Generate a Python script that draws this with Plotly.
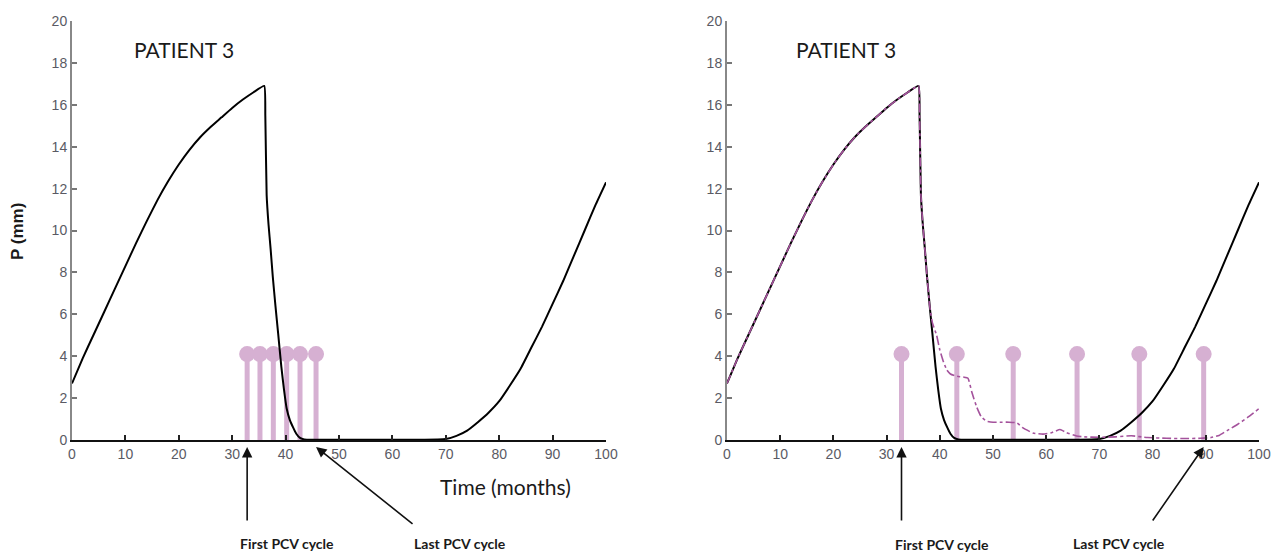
import plotly.graph_objects as go

# ---- data ----
time_model = [0, 2, 4, 6, 8, 10, 12, 14, 16, 18, 20, 22, 24, 26, 28, 30, 32, 34, 36,
              36.2, 36.45, 36.8, 37.2, 37.6, 38.1, 38.6, 39.2, 39.7, 40.2, 40.8, 41.4, 42.0,
              42.7, 43.5, 45, 50, 55, 60, 65, 70, 72, 74, 76, 78, 80, 82, 84, 86, 88, 90,
              92, 94, 96, 98, 100]
p_model = [2.7, 3.9, 5.0, 6.1, 7.2, 8.3, 9.4, 10.45, 11.45, 12.35, 13.15, 13.85, 14.45,
           14.95, 15.4, 15.85, 16.25, 16.6, 16.9,
           15.5, 11.7, 10.3, 9.1, 7.8, 6.4, 5.1, 3.5, 2.4, 1.5, 0.95, 0.6, 0.3,
           0.1, 0.03, 0.01, 0.01, 0.01, 0.01, 0.01, 0.05, 0.2, 0.45, 0.85, 1.3, 1.85, 2.6,
           3.4, 4.4, 5.4, 6.5, 7.6, 8.8, 10.0, 11.2, 12.3]

time_alt = [0, 2, 4, 6, 8, 10, 12, 14, 16, 18, 20, 22, 24, 26, 28, 30, 32, 34, 36,
            36.2, 36.45, 36.8, 37.2, 37.6, 38.1, 38.6, 39.4, 40.0, 40.6, 41.3, 42.0, 43.0,
            44.5, 45.3, 46.0, 46.9, 47.8, 48.8, 50, 51.3, 53, 54.5, 55.5, 57.5, 59.4, 61,
            62.6, 63.8, 65.7, 67, 70, 73, 76, 79, 82.6, 86, 89, 91, 92.5, 94, 96, 98, 100]
p_alt = [2.7, 3.9, 5.0, 6.1, 7.2, 8.3, 9.4, 10.45, 11.45, 12.35, 13.15, 13.85, 14.45,
         14.95, 15.4, 15.85, 16.25, 16.6, 16.9,
         15.5, 11.7, 10.3, 9.1, 7.8, 6.4, 5.6, 5.0, 4.3, 3.8, 3.35, 3.15, 3.05,
         3.0, 2.95, 2.3, 1.6, 1.1, 0.9, 0.85, 0.85, 0.85, 0.82, 0.6, 0.33, 0.28, 0.35,
         0.5, 0.35, 0.19, 0.15, 0.13, 0.15, 0.2, 0.12, 0.08, 0.07, 0.08, 0.12, 0.22,
         0.45, 0.75, 1.1, 1.5]

pcv_left = [32.8, 35.2, 37.7, 40.2, 42.7, 45.7]
pcv_right = [32.8, 43.2, 53.8, 65.8, 77.5, 89.6]
pcv_level = 4.1

x_ticks = [0, 10, 20, 30, 40, 50, 60, 70, 80, 90, 100]
y_ticks = [0, 2, 4, 6, 8, 10, 12, 14, 16, 18, 20]

W, H = 1282, 554
STEM = "#d6b0d2"
PINK = "#a4529c"
TICKFONT = dict(family="Liberation Sans, Arial", size=14, color="#5a5a64")

fig = go.Figure()


def add_panel(xa, ya, stems, alt=False):
    sx, sy = [], []
    for s in stems:
        sx += [s, s, None]
        sy += [0, pcv_level, None]
    fig.add_trace(go.Scatter(x=sx, y=sy, mode="lines", xaxis=xa, yaxis=ya,
                             line=dict(color=STEM, width=5), cliponaxis=False,
                             hoverinfo="skip", showlegend=False))
    fig.add_trace(go.Scatter(x=stems, y=[pcv_level] * len(stems), mode="markers",
                             xaxis=xa, yaxis=ya, cliponaxis=False,
                             marker=dict(color=STEM, size=16, line=dict(width=0)),
                             showlegend=False))
    fig.add_trace(go.Scatter(x=time_model, y=p_model, mode="lines", xaxis=xa, yaxis=ya,
                             line=dict(color="black", width=2, shape="spline",
                                       smoothing=0.4),
                             cliponaxis=False, showlegend=False))
    if alt:
        fig.add_trace(go.Scatter(x=time_alt, y=p_alt, mode="lines", xaxis=xa, yaxis=ya,
                                 line=dict(color=PINK, width=1.6, dash="dashdot",
                                           shape="spline", smoothing=0.4),
                                 cliponaxis=False, showlegend=False))


add_panel("x", "y", pcv_left)
add_panel("x2", "y2", pcv_right, alt=True)

ydom = [114 / H, 533 / H]
common_x = dict(range=[0, 100], tickvals=x_ticks, ticks="inside", ticklen=5, tickwidth=1.5,
                tickcolor="#222", showline=True, linecolor="#111", linewidth=2,
                showgrid=False, zeroline=False, tickfont=TICKFONT, automargin=False)
common_y = dict(range=[0, 20], tickvals=y_ticks, ticks="inside", ticklen=5, tickwidth=1.5,
                tickcolor="#777", showline=True, linecolor="#888", linewidth=2,
                showgrid=False, zeroline=False, tickfont=TICKFONT, automargin=False)

fig.update_layout(
    width=W, height=H,
    margin=dict(l=0, r=0, t=0, b=0, pad=0),
    paper_bgcolor="white", plot_bgcolor="white",
    xaxis=dict(domain=[72 / W, 606 / W], anchor="y", **common_x),
    yaxis=dict(domain=ydom, anchor="x", **common_y),
    xaxis2=dict(domain=[727 / W, 1259 / W], anchor="y2", **common_x),
    yaxis2=dict(domain=ydom, anchor="x2", **common_y),
)

LBL = dict(family="Lato, Open Sans, sans-serif", color="#1a1a1a")
ann = []


def label(text, cx, cy, font, angle=0):
    ann.append(dict(text=text, x=cx / W, y=1 - cy / H, xref="paper", yref="paper",
                    xanchor="center", yanchor="middle", showarrow=False,
                    textangle=angle, font=font))


label("PATIENT 3", 184, 50, dict(size=21, **LBL))
label("PATIENT 3", 846, 50, dict(size=21, **LBL))
label("Time (months)", 505, 487, dict(size=21, **LBL))
label("<b>P (mm)</b>", 18, 232,
      dict(size=17, family="Liberation Sans, Arial", color="#1a1a1a"), angle=-90)

BFONT = dict(size=14, family="Lato, Open Sans, sans-serif", color="#1a1a1a")
for txt, cx, cy in [("First PCV cycle", 287, 543), ("Last PCV cycle", 460, 543),
                    ("First PCV cycle", 942, 544), ("Last PCV cycle", 1119, 543)]:
    label("<b>" + txt + "</b>", cx, cy, BFONT)

# arrows
head_y = 1 - 447 / H
for xr, hx, axp, ayp in [("x", pcv_left[0], 0, 75), ("x", pcv_left[-1], 98, 78),
                         ("x2", pcv_right[0], 0, 75), ("x2", pcv_right[-1], -52, 75)]:
    ann.append(dict(text="", x=hx, y=head_y, xref=xr, yref="paper", showarrow=True,
                    arrowhead=2, arrowsize=1.3, arrowwidth=1.6, arrowcolor="#111",
                    ax=axp, ay=ayp))
fig.update_layout(annotations=ann)

fig.write_html("out.html")
